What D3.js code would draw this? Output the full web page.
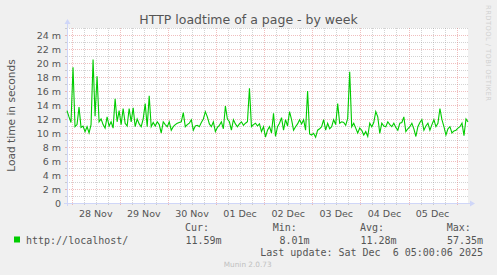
<!DOCTYPE html>
<html><head><meta charset="utf-8">
<script src="https://cdn.jsdelivr.net/npm/d3@7"></script>
<style>
html,body{margin:0;padding:0;background:#F0F0F0;}
svg{display:block;}
text{font-family:"DejaVu Sans",sans-serif;}
.mono{font-family:"DejaVu Sans Mono",monospace;}
</style></head>
<body>
<svg id="c" width="497" height="275"></svg>
<script>
// ---- data ----
const title = "HTTP loadtime of a page - by week";
const yAxisTitle = "Load time in seconds";
const seriesName = "http://localhost/";
const seriesColor = "#00CC00";
const startTime = new Date(2025, 10, 27, 21, 40); // first sample
const stepHours = 1;
// load time in milliseconds ("m" = milli-seconds), hourly
const values = [
 13.2,12.3,11.5,19.4,10.9,11.2,13.7,10.8,11.0,10.2,
 10.9,10.0,11.2,20.5,12.4,18.1,11.6,12.0,11.2,10.7,
 12.3,11.0,11.6,10.7,14.9,11.6,13.2,11.2,13.5,11.4,
 11.0,13.5,11.6,13.6,10.9,12.0,11.3,10.9,12.0,14.2,
 10.9,15.3,10.9,11.5,11.0,11.6,11.2,10.0,11.6,11.2,
 10.9,11.6,10.4,10.9,11.2,11.4,11.5,11.6,12.9,10.9,
 11.2,11.4,11.9,10.4,11.0,11.1,10.9,11.5,12.0,13.05,
 12.3,11.3,10.9,11.6,10.2,10.8,11.1,11.6,10.6,13.86,
 12.0,11.6,10.4,11.9,11.3,10.9,11.3,11.6,11.1,11.4,
 11.6,16.4,10.9,11.2,11.4,11.0,11.3,10.2,10.9,9.4,
 10.4,10.9,10.0,12.8,9.5,10.9,11.4,12.2,10.4,11.9,
 11.0,13.05,11.9,10.4,10.9,11.3,11.9,11.3,11.9,10.4,
 16.0,9.86,9.71,9.95,9.38,10.4,10.6,10.9,11.9,10.4,
 11.4,10.6,10.9,11.9,11.2,14.2,11.4,11.6,11.5,11.1,
 12.1,18.76,10.9,11.4,10.7,10.0,10.7,10.4,9.71,10.2,
 9.5,11.4,10.9,11.5,13.05,12.3,9.95,11.4,11.0,10.9,
 11.6,11.2,10.9,11.4,10.8,10.4,11.4,11.5,12.3,10.2,
 10.6,10.9,11.4,10.6,9.5,10.9,11.5,11.9,10.4,11.0,
 11.4,10.4,11.2,11.9,10.9,11.4,13.5,11.9,10.9,9.71,
 10.6,10.9,10.0,10.3,10.4,10.7,10.9,11.4,9.62,12.0,
 11.59
];
const yTicks = [0,2,4,6,8,10,12,14,16,18,20,22,24];
const yMax = 25;
const statLabels = ["Cur:","Min:","Avg:","Max:"];
const statValues = ["11.59m","8.01m","11.28m","57.35m"];
const lastUpdate = "Last update: Sat Dec  6 05:00:06 2025";
const footer = "Munin 2.0.73";
const watermark = "RRDTOOL / TOBI OETIKER";

// ---- layout ----
const svg = d3.select("#c");
const L = 67, R = 468, T = 28, B = 203;
const data = values.map((v,i)=>({t:new Date(+startTime + i*stepHours*3600e3), v}));
const x = d3.scaleTime().domain([startTime, new Date(+startTime + 200*3600e3)]).range([L, R]);
const y = d3.scaleLinear().domain([0, yMax]).range([B, T]);

svg.append("rect").attr("width",497).attr("height",275).attr("fill","#F0F0F0");
svg.append("rect").attr("x",L).attr("y",T).attr("width",R-L).attr("height",B-T).attr("fill","#fff");

const minorCol = "rgba(150,150,150,0.42)", majorCol = "rgba(222,110,110,0.45)";
const g = svg.append("g");
// horizontal minor grid every 1
d3.range(1, yMax+1).forEach(v=>{
  const major = v % 2 === 0;
  g.append("line").attr("x1",L).attr("x2",R).attr("y1",y(v)+0.5).attr("y2",y(v)+0.5)
   .attr("stroke", major?majorCol:minorCol).attr("stroke-dasharray","1,1");
  g.append("line").attr("x1",L-2).attr("x2",L).attr("y1",y(v)+0.5).attr("y2",y(v)+0.5)
   .attr("stroke", major?majorCol:minorCol);
});
// vertical grid
const sixH = d3.timeHour.every(6).range(startTime, x.domain()[1]);
sixH.forEach(t=>{
  const major = t.getHours() === 0;
  const px = Math.round(x(t)) + 0.5;
  g.append("line").attr("x1",px).attr("x2",px).attr("y1",T).attr("y2",B)
   .attr("stroke", major?majorCol:minorCol).attr("stroke-dasharray","1,1");
  g.append("line").attr("x1",px).attr("x2",px).attr("y1",B).attr("y2",B+2)
   .attr("stroke", major?majorCol:minorCol);
});

// axes
const axisCol = "#CFD6F8";
svg.append("line").attr("x1",L-3).attr("x2",R+2).attr("y1",B+0.5).attr("y2",B+0.5).attr("stroke",axisCol);
svg.append("line").attr("x1",L+0.5).attr("x2",L+0.5).attr("y1",B+3).attr("y2",T-4).attr("stroke",axisCol);
svg.append("path").attr("d",`M${R+2},${B-2.5} L${R+7},${B+0.5} L${R+2},${B+3.5} Z`).attr("fill",axisCol);
svg.append("path").attr("d",`M${L-2.5},${T-4} L${L+0.5},${T-9} L${L+3.5},${T-4} Z`).attr("fill",axisCol);

// series line
svg.append("path").datum(data)
  .attr("d", d3.line().x(d=>x(d.t)).y(d=>y(d.v)))
  .attr("fill","none").attr("stroke",seriesColor).attr("stroke-width",1.1);

// y tick labels
const fontCol = "#555";
svg.selectAll(".yl").data(yTicks).enter().append("text")
  .attr("x",61).attr("y",d=>y(d)+3.5).attr("text-anchor","end")
  .attr("font-size","9.5px").attr("fill",fontCol)
  .text(d=> d===0 ? "0" : d+" m");

// x labels at noon
d3.timeDay.range(d3.timeDay.ceil(startTime), x.domain()[1]).forEach(t=>{
  const noon = new Date(+t + 12*3600e3);
  if (x(noon) > R) return;
  svg.append("text").attr("x",x(noon)).attr("y",216.5).attr("text-anchor","middle")
    .attr("font-size","9.5px").attr("fill",fontCol)
    .text(d3.timeFormat("%d %b")(t));
});

// titles
svg.append("text").attr("x",248.5).attr("y",24).attr("text-anchor","middle")
  .attr("font-size","12.5px").attr("fill",fontCol).text(title);
svg.append("text").attr("transform","translate(15,115.5) rotate(-90)").attr("text-anchor","middle")
  .attr("font-size","10.6px").attr("fill",fontCol).text(yAxisTitle);
svg.append("text").attr("transform","translate(486,5) rotate(90)").attr("text-anchor","start")
  .attr("font-size","6.8px").attr("fill","#D0D0D0").attr("textLength",96).text(watermark);

// legend
svg.append("rect").attr("x",14).attr("y",236.5).attr("width",6).attr("height",6).attr("fill",seriesColor);
const mono = (xx,yy,txt,anchor)=>svg.append("text").attr("class","mono").attr("x",xx).attr("y",yy)
  .attr("text-anchor",anchor||"start").attr("font-size","10px").attr("fill",fontCol).attr("xml:space","preserve").text(txt);
mono(26,243.5,seriesName);
const statX = [185, 272.7, 360, 446.7];
const statValRight = [221.5, 309.5, 396.5, 483];
statLabels.forEach((s,i)=>mono(statX[i],231,s));
statValues.forEach((s,i)=>mono(statValRight[i],243.5,s,"end"));
mono(483,255.5,lastUpdate,"end");
svg.append("text").attr("x",247.7).attr("y",266.5).attr("text-anchor","middle")
  .attr("font-size","7.3px").attr("fill","#C0C0C0").text(footer);
</script>
</body></html>
